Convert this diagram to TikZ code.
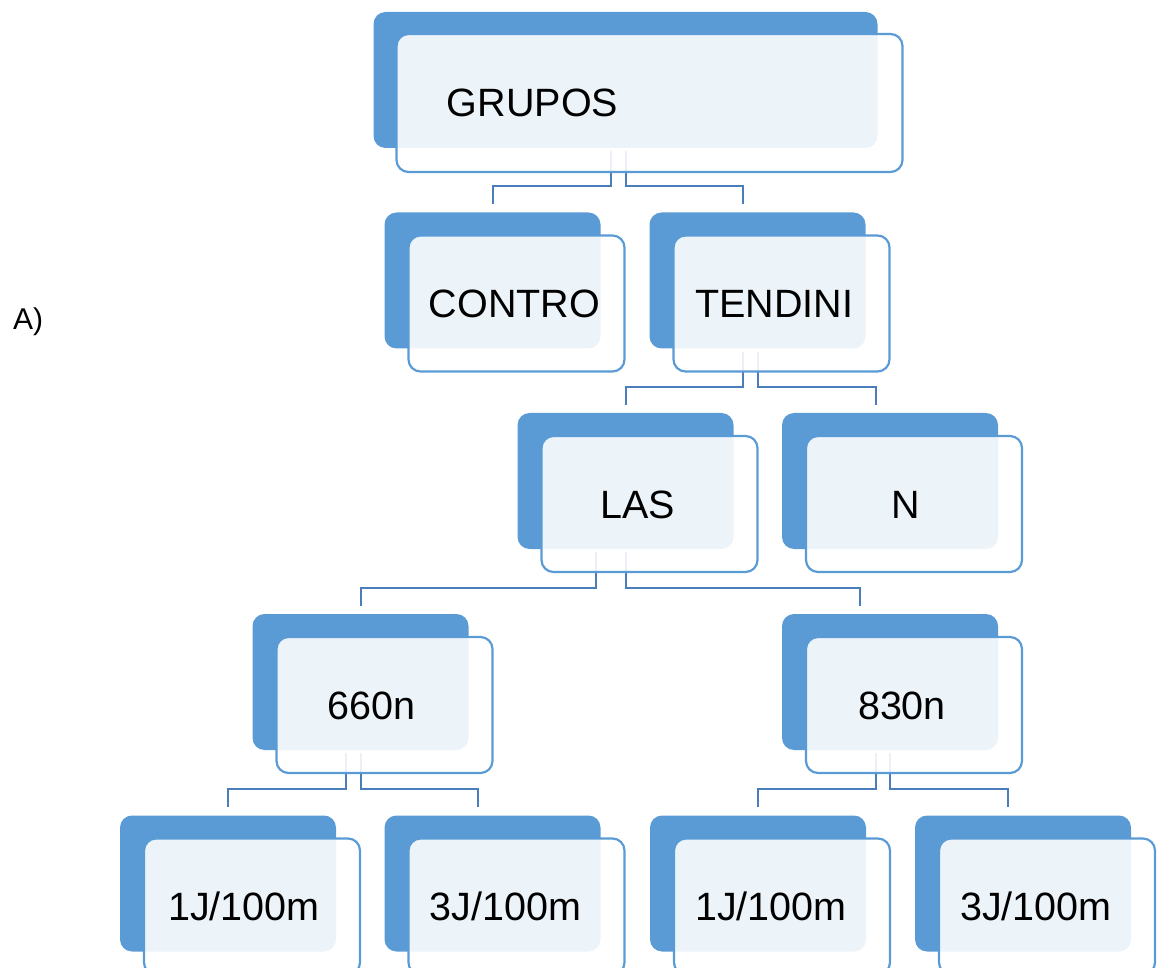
\documentclass[tikz,border=0pt]{standalone}
\usepackage{fontspec}
\setmainfont{Liberation Sans}
\usepackage{tikz}
\usetikzlibrary{positioning, calc}
\definecolor{boxblue}{RGB}{91, 155, 213}
\definecolor{linkblue}{RGB}{74, 126, 187}

\begin{document}
\begin{tikzpicture}[x=1pt, y=-1pt,
    backbox/.style={fill=boxblue, rounded corners=12pt, minimum width=216pt, minimum height=136pt, inner sep=0pt},
    frontbox/.style={draw=boxblue, line width=2.2pt, fill=white, fill opacity=0.89, rounded corners=12pt, minimum width=216pt, minimum height=136pt, inner sep=0pt},
    lbl/.style={font=\fontsize{39.5}{47}\selectfont, text height=28pt, text depth=0pt, inner sep=0pt},
    link/.style={draw=linkblue, line width=2pt}]
    \useasboundingbox (0,0) rectangle (1163,968);
    \clip (0,0) rectangle (1163,968);

    % Centres of the front boxes
    \coordinate (grupos-c) at (649.5, 103);
    \coordinate (contro-c) at (516.5, 303.5);
    \coordinate (tendini-c) at (781.5, 303.5);
    \coordinate (las-c) at (649.5, 504);
    \coordinate (n-c) at (914, 504);
    \coordinate (l660-c) at (384.5, 705);
    \coordinate (l830-c) at (914, 705);
    \coordinate (a1-c) at (252, 906.5);
    \coordinate (a3-c) at (516.5, 906.5);
    \coordinate (b1-c) at (782, 906.5);
    \coordinate (b3-c) at (1047, 906.5);

    % Back (dark) boxes
    \node[backbox, minimum width=504pt] (grupos-bk) at ($(grupos-c)+(-24,-23)$) {};
    \node[backbox] (contro-bk) at ($(contro-c)+(-24,-23)$) {};
    \node[backbox] (tendini-bk) at ($(tendini-c)+(-24,-23)$) {};
    \node[backbox] (las-bk) at ($(las-c)+(-24,-23)$) {};
    \node[backbox] (n-bk) at ($(n-c)+(-24,-23)$) {};
    \node[backbox] (l660-bk) at ($(l660-c)+(-24,-23)$) {};
    \node[backbox] (l830-bk) at ($(l830-c)+(-24,-23)$) {};
    \node[backbox] (a1-bk) at ($(a1-c)+(-24,-23)$) {};
    \node[backbox] (a3-bk) at ($(a3-c)+(-24,-23)$) {};
    \node[backbox] (b1-bk) at ($(b1-c)+(-24,-23)$) {};
    \node[backbox] (b3-bk) at ($(b3-c)+(-24,-23)$) {};

    % Connectors (under the front boxes)
    \draw[link] ($(grupos-bk.south)+(-14.5,3)$) |- ($(contro-bk.north)+(0,-26)$) -- ($(contro-bk.north)+(0,-8)$);
    \draw[link] ($(grupos-bk.south)+(0,3)$) |- ($(tendini-bk.north)+(-14.5,-26)$) -- ($(tendini-bk.north)+(-14.5,-8)$);

    \draw[link] ($(tendini-bk.south)+(-15,3)$) |- ($(las-bk.north)+(0,-26)$) -- ($(las-bk.north)+(0,-8)$);
    \draw[link] ($(tendini-bk.south)+(0,3)$) |- ($(n-bk.north)+(-14.5,-26)$) -- ($(n-bk.north)+(-14.5,-8)$);

    \draw[link] ($(las-bk.south)+(-29.5,3)$) |- ($(l660-bk.north)+(0,-26)$) -- ($(l660-bk.north)+(0,-8)$);
    \draw[link] ($(las-bk.south)+(0,3)$) |- ($(l830-bk.north)+(-30,-26)$) -- ($(l830-bk.north)+(-30,-8)$);

    \draw[link] ($(l660-bk.south)+(-15,3)$) |- ($(a1-bk.north)+(0,-26)$) -- ($(a1-bk.north)+(0,-8)$);
    \draw[link] ($(l660-bk.south)+(0,3)$) |- ($(a3-bk.north)+(-14.5,-26)$) -- ($(a3-bk.north)+(-14.5,-8)$);

    \draw[link] ($(l830-bk.south)+(-14,3)$) |- ($(b1-bk.north)+(0,-26)$) -- ($(b1-bk.north)+(0,-8)$);
    \draw[link] ($(l830-bk.south)+(0,3)$) |- ($(b3-bk.north)+(-15,-26)$) -- ($(b3-bk.north)+(-15,-8)$);

    % Front boxes
    \node[frontbox, minimum width=506pt, minimum height=138pt] (grupos) at (grupos-c) {};
    \node[frontbox] (contro) at (contro-c) {};
    \node[frontbox] (tendini) at (tendini-c) {};
    \node[frontbox] (las) at (las-c) {};
    \node[frontbox] (n) at (n-c) {};
    \node[frontbox] (l660) at (l660-c) {};
    \node[frontbox] (l830) at (l830-c) {};
    \node[frontbox] (a1) at (a1-c) {};
    \node[frontbox] (a3) at (a3-c) {};
    \node[frontbox] (b1) at (b1-c) {};
    \node[frontbox] (b3) at (b3-c) {};

    % Labels
    \node[lbl] (grupos-t) at ([xshift=-117pt]grupos.center) {GRUPOS};
    \node[lbl] (contro-t) at ([xshift=-2pt]contro.center) {CONTRO};
    \node[lbl] (tendini-t) at ([xshift=-7.5pt]tendini.center) {TENDINI};
    \node[lbl] (las-t) at ([xshift=-12pt]las.center) {LAS};
    \node[lbl] (n-t) at ([xshift=-8pt]n.center) {N};
    \node[lbl] (l660-t) at ([xshift=-13pt]l660.center) {660n};
    \node[lbl] (l830-t) at ([xshift=-12pt]l830.center) {830n};
    \node[lbl] (a1-t) at ([xshift=-8pt]a1.center) {1J/100m};
    \node[lbl] (a3-t) at ([xshift=-11pt]a3.center) {3J/100m};
    \node[lbl] (b1-t) at ([xshift=-11pt]b1.center) {1J/100m};
    \node[lbl] (b3-t) at ([xshift=-11pt]b3.center) {3J/100m};

    \node[font=\fontsize{30}{36}\selectfont, inner sep=0pt] (tag) at (28, 322) {A)};
\end{tikzpicture}
\end{document}
